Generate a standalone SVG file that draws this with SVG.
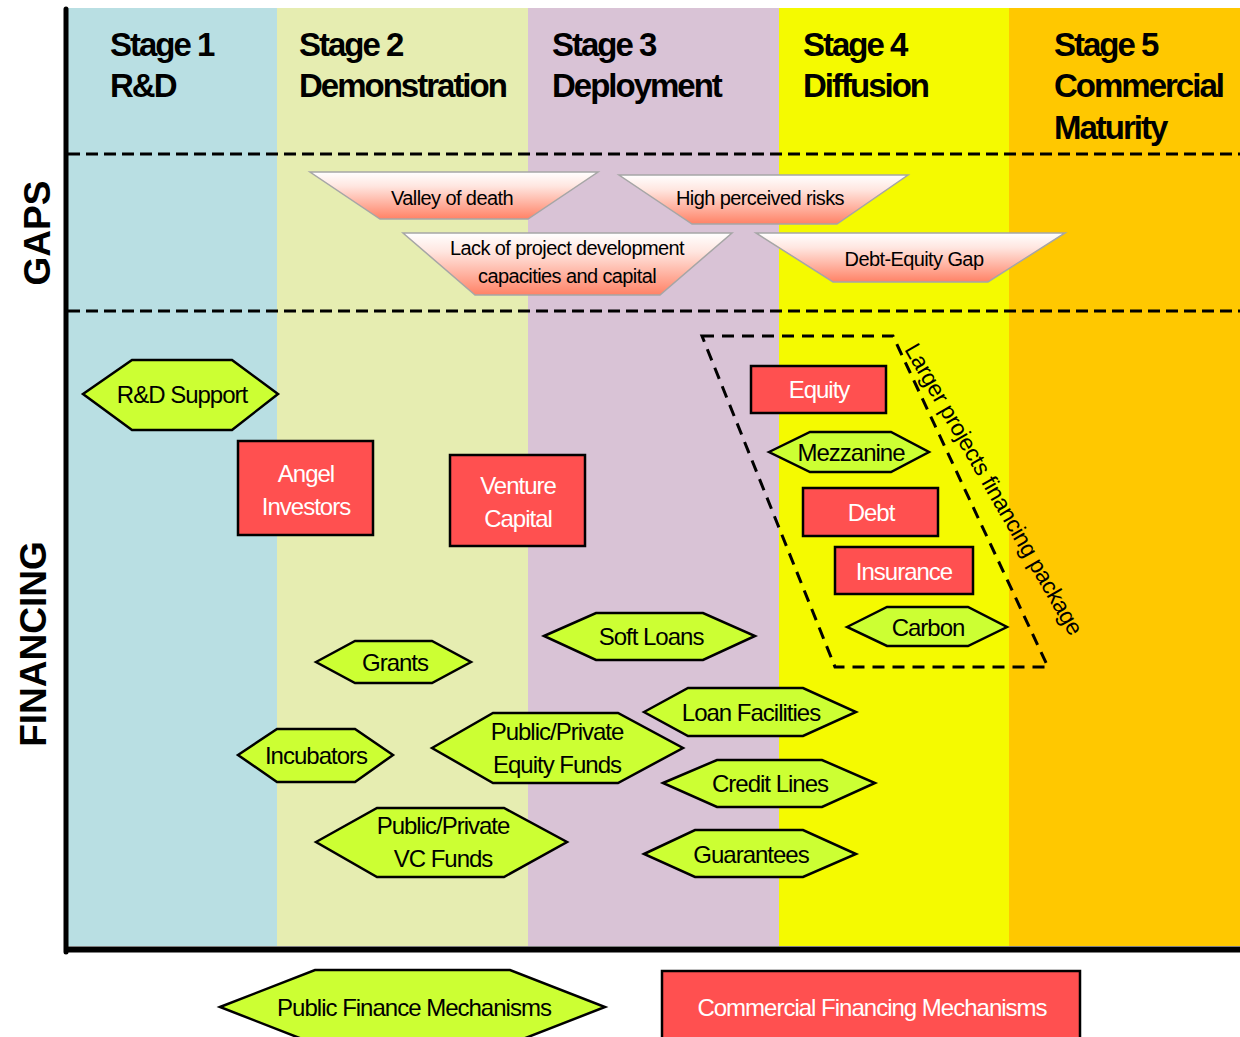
<svg xmlns="http://www.w3.org/2000/svg" width="1240" height="1037" viewBox="0 0 1240 1037">
<defs>
<linearGradient id="gapgrad" x1="0" y1="0" x2="0" y2="1">
<stop offset="0" stop-color="#FFFFFF"/>
<stop offset="0.3" stop-color="#FFE6E0"/>
<stop offset="1" stop-color="#FF8266"/>
</linearGradient>
<style>
text{font-family:"Liberation Sans",Arial,sans-serif;}
.stage{font-size:33px;font-weight:bold;letter-spacing:-2px;fill:#000;}
.side{font-size:37px;font-weight:bold;fill:#000;}
.gap{fill:url(#gapgrad);stroke:#A6A6A6;stroke-width:1.5;}
.gapt{font-size:20px;letter-spacing:-0.6px;fill:#000;text-anchor:middle;}
.hex{fill:#CCFF33;stroke:#000;stroke-width:2.5;stroke-linejoin:miter;}
.rect{fill:#FF5050;stroke:#000;stroke-width:2.5;}
.ht{font-size:24px;letter-spacing:-1px;fill:#000;text-anchor:middle;}
.rt{font-size:24px;letter-spacing:-1px;fill:#FFFFFF;text-anchor:middle;}
.dash{stroke:#000;stroke-width:3;stroke-dasharray:12 6;fill:none;}
</style>
</defs>
<rect x="0" y="0" width="1240" height="1037" fill="#FFFFFF"/>
<g id="bands">
<rect x="67" y="8" width="210" height="938" fill="#B9DFE3"/>
<rect x="277" y="8" width="251" height="938" fill="#E6EDB1"/>
<rect x="528" y="8" width="251" height="938" fill="#D9C3D6"/>
<rect x="779" y="8" width="230" height="938" fill="#F5FA00"/>
<rect x="1009" y="8" width="231" height="938" fill="#FFC800"/>
</g>
<g id="axes">
<line x1="66" y1="9" x2="66" y2="952" stroke="#000" stroke-width="5" stroke-linecap="round"/>
<line x1="64" y1="949.5" x2="1240" y2="949.5" stroke="#000" stroke-width="6"/>
<line class="dash" x1="68" y1="154" x2="1240" y2="154"/>
<line class="dash" x1="68" y1="311" x2="1240" y2="311"/>
</g>
<g id="stage-headers">
<text class="stage" x="110" y="56">Stage 1</text>
<text class="stage" x="110" y="97">R&amp;D</text>
<text class="stage" x="299" y="56">Stage 2</text>
<text class="stage" x="299" y="97">Demonstration</text>
<text class="stage" x="552" y="56">Stage 3</text>
<text class="stage" x="552" y="97">Deployment</text>
<text class="stage" x="803" y="56">Stage 4</text>
<text class="stage" x="803" y="97">Diffusion</text>
<text class="stage" x="1054" y="56">Stage 5</text>
<text class="stage" x="1054" y="97">Commercial</text>
<text class="stage" x="1054" y="139">Maturity</text>
</g>
<g id="side-labels">
<text class="side" transform="translate(50,233) rotate(-90)" text-anchor="middle">GAPS</text>
<text class="side" transform="translate(46,644) rotate(-90)" text-anchor="middle">FINANCING</text>
</g>
<g id="gap-valley">
<polygon class="gap" points="310,172 598,172 528,219 380,219"/>
<text class="gapt" x="452" y="205">Valley of death</text>
</g>
<g id="gap-risks">
<polygon class="gap" points="619,175 908,175 837,224 692,224"/>
<text class="gapt" x="760" y="205">High perceived risks</text>
</g>
<g id="gap-lack">
<polygon class="gap" points="403,233 732,233 660,295 475,295"/>
<text class="gapt" x="567" y="255">Lack of project development</text>
<text class="gapt" x="567" y="283">capacities and capital</text>
</g>
<g id="gap-debt-equity">
<polygon class="gap" points="756,233 1065,233 988,282 833,282"/>
<text class="gapt" x="914" y="266">Debt-Equity Gap</text>
</g>
<g id="larger-package">
<polygon points="702,336 893,336 1048,667 835,667" fill="none" stroke="#000" stroke-width="3" stroke-dasharray="12 8"/>
<text transform="translate(994,489) rotate(60)" text-anchor="middle" font-size="23" letter-spacing="-0.4" y="8">Larger projects financing package</text>
</g>
<g id="rd-support">
<polygon class="hex" points="83,394 132,360 232,360 278,394 232,430 132,430"/>
<text class="ht" x="182" y="403">R&amp;D Support</text>
</g>
<g id="angel-investors">
<rect class="rect" x="238" y="441" width="135" height="94"/>
<text class="rt" x="306" y="482">Angel</text>
<text class="rt" x="306" y="515">Investors</text>
</g>
<g id="venture-capital">
<rect class="rect" x="450" y="455" width="135" height="91"/>
<text class="rt" x="518" y="494">Venture</text>
<text class="rt" x="518" y="527">Capital</text>
</g>
<g id="equity">
<rect class="rect" x="751" y="366" width="135" height="47"/>
<text class="rt" x="819" y="398">Equity</text>
</g>
<g id="mezzanine">
<polygon class="hex" points="769,452 810,432 891,432 929,452 891,472 810,472"/>
<text class="ht" x="851" y="461">Mezzanine</text>
</g>
<g id="debt">
<rect class="rect" x="803" y="488" width="135" height="48"/>
<text class="rt" x="871" y="521">Debt</text>
</g>
<g id="insurance">
<rect class="rect" x="835" y="547" width="138" height="47"/>
<text class="rt" x="904" y="580">Insurance</text>
</g>
<g id="carbon">
<polygon class="hex" points="847,627 887,607 968,607 1007,627 968,646 887,646"/>
<text class="ht" x="928" y="636">Carbon</text>
</g>
<g id="soft-loans">
<polygon class="hex" points="544,636 596,613 703,613 755,636 703,660 596,660"/>
<text class="ht" x="651" y="645">Soft Loans</text>
</g>
<g id="grants">
<polygon class="hex" points="316,662 355,641 432,641 471,662 432,683 355,683"/>
<text class="ht" x="395" y="671">Grants</text>
</g>
<g id="incubators">
<polygon class="hex" points="238,755 277,729 355,729 393,755 355,782 277,782"/>
<text class="ht" x="316" y="764">Incubators</text>
</g>
<g id="equity-funds">
<polygon class="hex" points="432,748 493,713 618,713 683,748 618,783 493,783"/>
<text class="ht" x="557" y="740">Public/Private</text>
<text class="ht" x="557" y="773">Equity Funds</text>
</g>
<g id="vc-funds">
<polygon class="hex" points="316,842 377,808 504,808 567,842 504,877 377,877"/>
<text class="ht" x="443" y="834">Public/Private</text>
<text class="ht" x="443" y="867">VC Funds</text>
</g>
<g id="loan-facilities">
<polygon class="hex" points="644,712 688,688 803,688 856,712 803,736 688,736"/>
<text class="ht" x="751" y="721">Loan Facilities</text>
</g>
<g id="credit-lines">
<polygon class="hex" points="663,783 717,760 822,760 875,783 822,807 717,807"/>
<text class="ht" x="770" y="792">Credit Lines</text>
</g>
<g id="guarantees">
<polygon class="hex" points="644,854 695,830 803,830 856,854 803,877 695,877"/>
<text class="ht" x="751" y="863">Guarantees</text>
</g>
<g id="legend-public">
<polygon class="hex" points="220,1007 315,970 510,970 605,1007 510,1044 315,1044"/>
<text class="ht" x="414" y="1016" letter-spacing="-1.2">Public Finance Mechanisms</text>
</g>
<g id="legend-commercial">
<rect class="rect" x="662" y="971" width="418" height="80"/>
<text class="rt" x="872" y="1016" letter-spacing="-0.9">Commercial Financing Mechanisms</text>
</g>
<g id="connectors"/>
</svg>
